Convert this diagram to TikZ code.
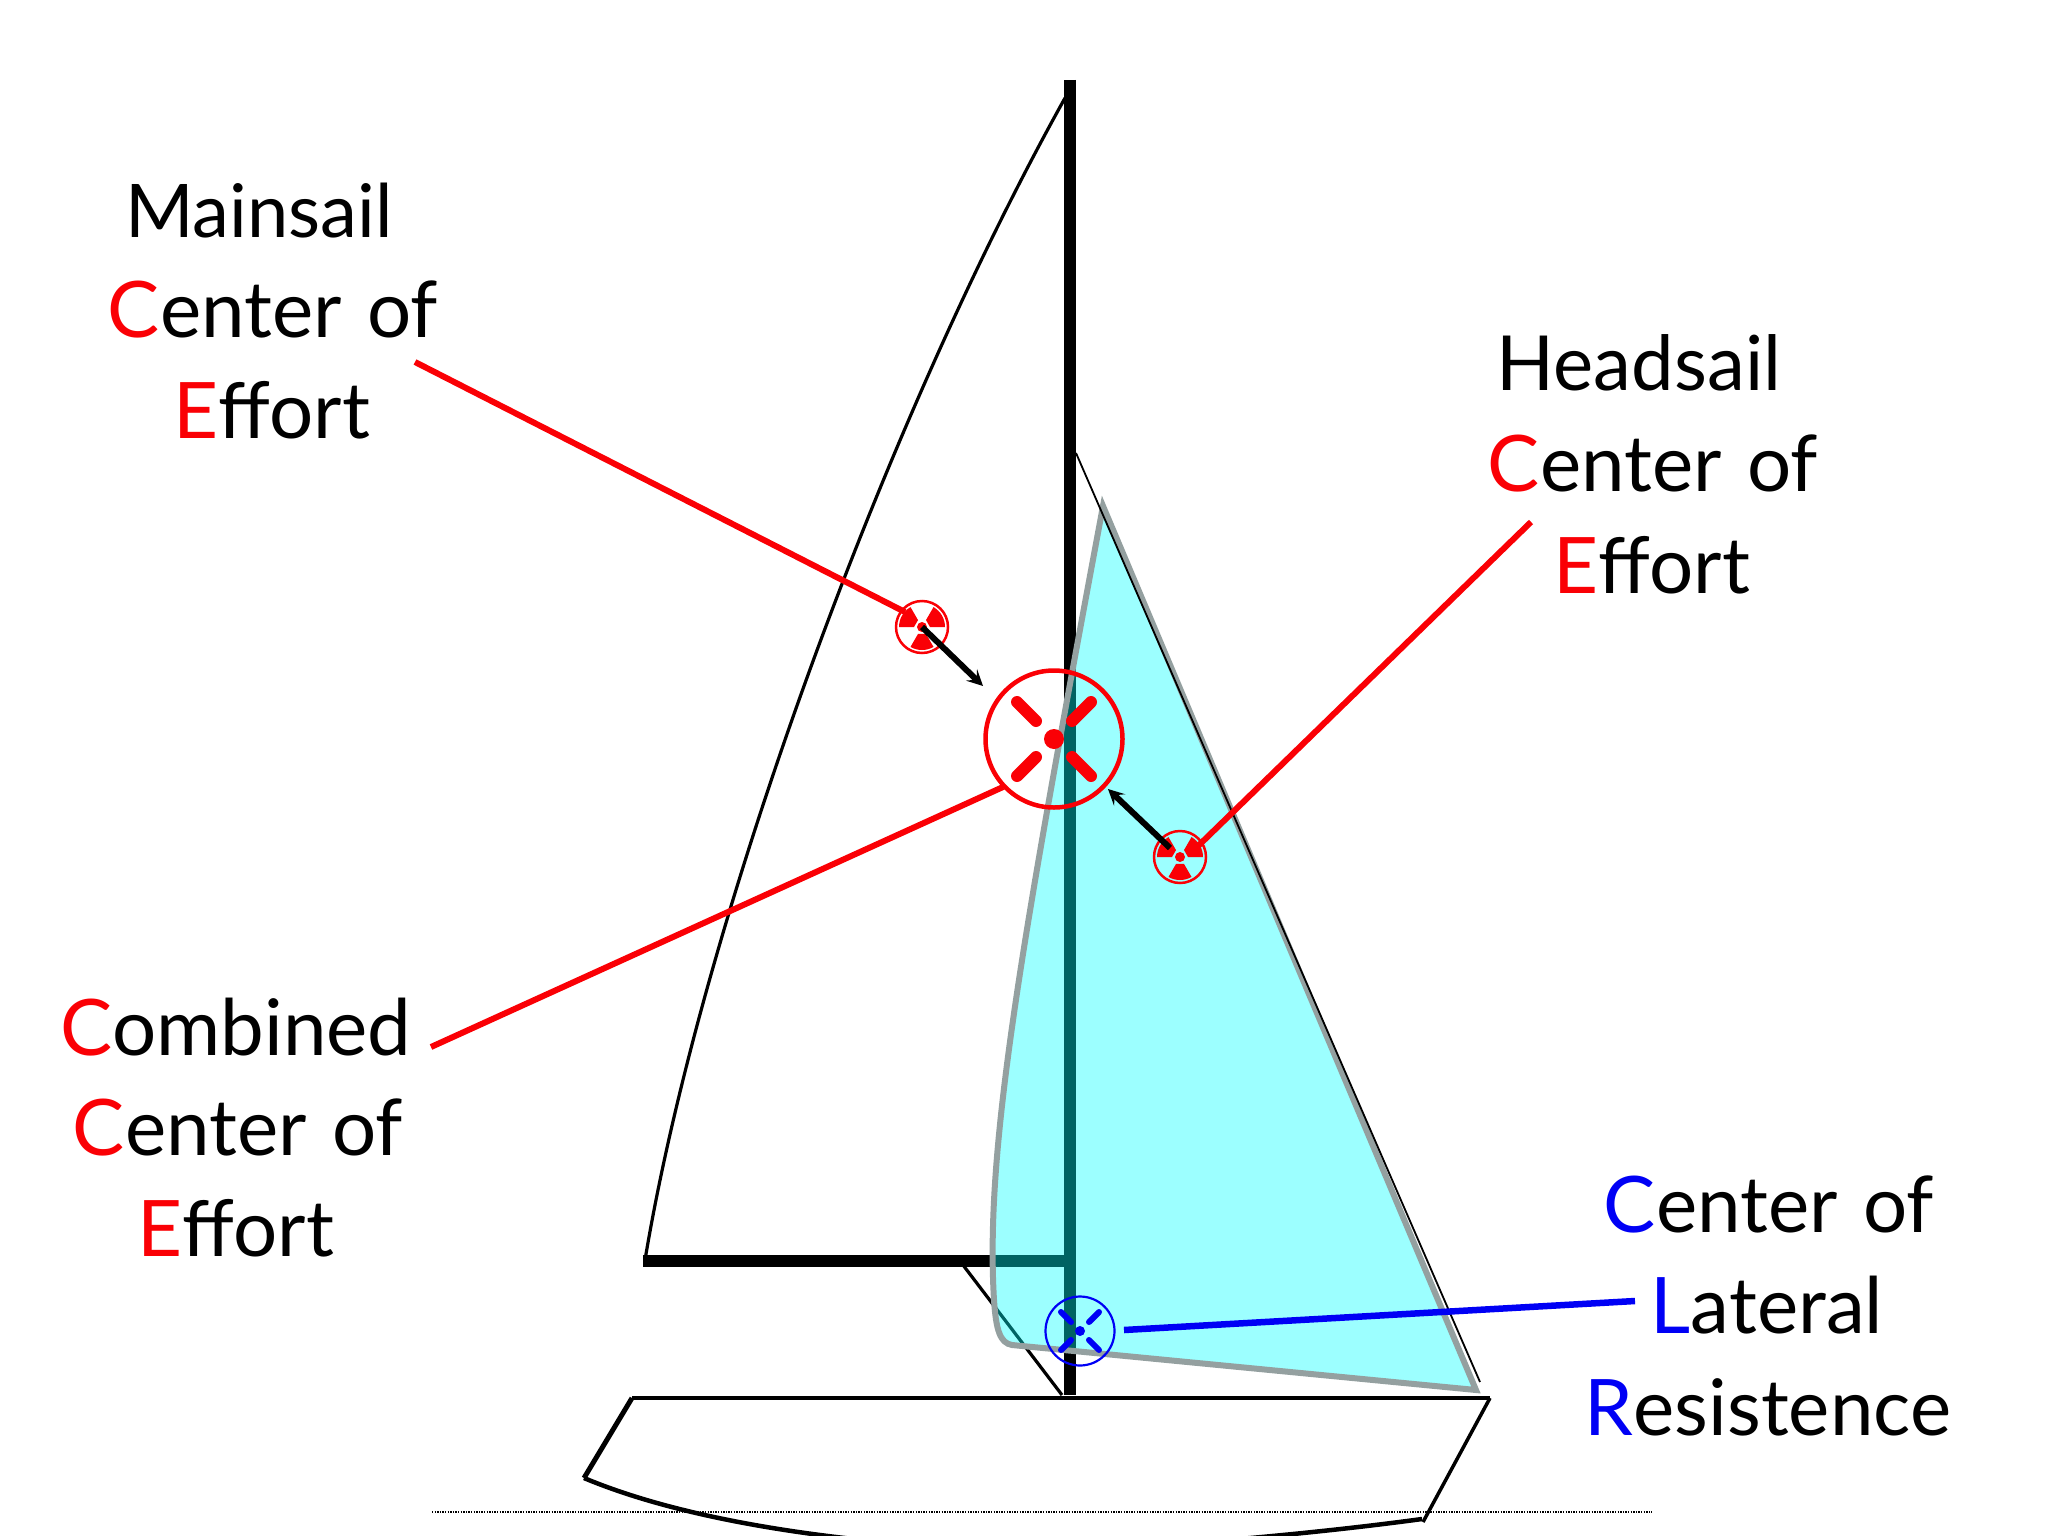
\documentclass[tikz,border=0pt]{standalone}
\usepackage{fontspec}
\setmainfont{Lato}
\usetikzlibrary{arrows.meta,calc}
\definecolor{jibedge}{RGB}{148,160,160}
\definecolor{jibfill}{RGB}{0,255,255}
\definecolor{redc}{RGB}{250,0,5}
\definecolor{bluec}{RGB}{0,0,245}
\tikzset{
  x=1pt,y=-1pt,
  lbl/.style={anchor=base,inner sep=0pt,font=\fontsize{78}{78}\selectfont},
  lblsmall/.style={anchor=base,inner sep=0pt,font=\fontsize{74}{74}\selectfont},
  thickspar/.style={line width=12pt,black},
  redline/.style={line width=6pt,redc},
  blueline/.style={line width=6.5pt,bluec},
  ringr/.style={circle,draw=redc,line width=2.5pt,minimum size=52pt,inner sep=0pt},
  blackarrow/.style={line width=6pt,black,-{Stealth[length=16pt,width=16pt,inset=7pt]}},
}
\newcommand{\Rd}[1]{\textcolor{redc}{#1}}
\newcommand{\Bl}[1]{\textcolor{bluec}{#1}}
\newcommand{\Wsp}{\hspace{0.33em}}
\newcommand{\trefoil}[2]{%
  \foreach \a in {0,120,240}{
    \fill[redc] ($(#1,#2)+(\a:8)$) -- ($(#1,#2)+(\a:23)$) arc[start angle=\a,delta angle=-60,radius=23] -- ($(#1,#2)+(\a-60:8)$) -- cycle;
  }
}
\begin{document}
\begin{tikzpicture}
\useasboundingbox (0,0) rectangle (2048,1536);
\clip (0,0) rectangle (2048,1536);
\fill[white] (0,0) rectangle (2048,1536);
% named points
\coordinate (mastTop) at (1070,80);
\coordinate (mastBot) at (1070,1395);
\coordinate (mainHead) at (1065,98);
\coordinate (mainTack) at (645,1260);
\coordinate (boomEnd) at (643,1261);
\coordinate (boomMast) at (1070,1261);
\coordinate (vangTop) at (963,1265);
\coordinate (vangBot) at (1062,1395);
\coordinate (stayTop) at (1076,453);
\coordinate (stayBot) at (1480,1382);
\coordinate (jibHead) at (1103,506);
\coordinate (jibClew) at (1476,1390);
\coordinate (deckL) at (632,1398);
\coordinate (deckR) at (1490,1398);
\coordinate (keelL) at (584,1478);
\coordinate (keelR) at (1423,1522);
\coordinate (keelRb) at (1422,1519);
\coordinate (waterL) at (432,1512);
\coordinate (waterR) at (1652,1512);
% rig
\draw[line width=3.2pt] (mainHead) .. controls (880,430) and (700,930) .. (mainTack);
\draw[thickspar] (mastTop) -- (mastBot);
\draw[thickspar] (boomEnd) -- (boomMast);
\draw[line width=3.2pt] (vangTop) -- (vangBot);
% headsail
\path[fill=jibfill,fill opacity=.39,draw=jibedge,line width=6pt,line join=miter]
  (jibHead) -- (jibClew) -- (1012,1345) .. controls (1000,1343) and (996,1330) .. (994,1300)
  .. controls (985,1150) and (1020,950) .. (jibHead) -- cycle;
\draw[line width=1.8pt] (stayTop) -- (stayBot);
% hull
\draw[line width=4.5pt] (deckL) -- (deckR);
\draw[line width=5pt] (deckL) -- (keelL);
\draw[line width=4.5pt] (keelL) .. controls (720,1535) and (930,1550) .. (1050,1550)
  .. controls (1120,1550) and (1290,1537) .. (keelRb);
\draw[line width=3.5pt] (deckR) -- (keelR);
\draw[line width=1.6pt,dash pattern=on 1.3pt off 1.3pt] (waterL) -- (waterR);
% markers
\node[ringr] (mainMark) at (922,627) {};
\trefoil{922}{627}
\fill[redc] (922,627) circle[radius=5];
\node[ringr] (headMark) at (1180,857) {};
\trefoil{1180}{857}
\fill[redc] (1180,857) circle[radius=5];
\node[circle,draw=redc,line width=4.5pt,minimum size=137pt,inner sep=0pt] (combMark) at (1054,739) {};
\foreach \dx/\dy in {-1/-1,1/-1,-1/1,1/1}{
  \draw[redc,line width=12pt,line cap=round] ($(combMark.center)+(\dx*37,\dy*37)$) -- ($(combMark.center)+(\dx*18,\dy*18)$);
}
\fill[redc] (combMark.center) circle[radius=10];
\node[circle,draw=bluec,line width=2.2pt,minimum size=69pt,inner sep=0pt] (blueMark) at (1080,1331) {};
\foreach \dx/\dy in {-1/-1,1/-1,-1/1,1/1}{
  \draw[bluec,line width=6pt,line cap=round] ($(blueMark.center)+(\dx*19,\dy*19)$) -- ($(blueMark.center)+(\dx*9,\dy*9)$);
}
\fill[bluec] (blueMark.center) circle[radius=5];
% arrows
\coordinate (mainArrTip) at (983,686);
\coordinate (headArrTail) at (1170,848);
\coordinate (headArrTip) at (1108,789);
\draw[blackarrow] (mainMark.center) -- (mainArrTip);
\draw[blackarrow] (headArrTail) -- (headArrTip);
% labels
\node[lblsmall] (a1) at (259,237) {Mainsail};
\node[lbl] (a2) at (273,337) {\Rd{C}enter\Wsp of};
\node[lbl] (a3) at (272,438) {\Rd{E}ffort};
\node[lbl,font=\fontsize{76}{76}\selectfont] (b1) at (1639,390) {Headsail};
\node[lbl] (b2) at (1653,491) {\Rd{C}enter\Wsp of};
\node[lbl] (b3) at (1652,593) {\Rd{E}ffort};
\node[lbl] (c1) at (236,1055) {\Rd{C}ombined};
\node[lbl] (c2) at (238,1155) {\Rd{C}enter\Wsp of};
\node[lbl] (c3) at (236,1256) {\Rd{E}ffort};
\node[lbl] (d1) at (1769,1232) {\Bl{C}enter\Wsp of};
\node[lbl] (d2) at (1767,1333) {\Bl{L}ateral};
\node[lbl] (d3) at (1768,1435) {\Bl{R}esistence};
% leaders
\coordinate (l1) at (415,362);
\coordinate (l1e) at (905,612);
\coordinate (l2) at (1531,522);
\coordinate (l2e) at (1196,848);
\coordinate (l3) at (431,1047);
\coordinate (l3e) at (1003,787);
\coordinate (l4) at (1635,1301);
\coordinate (l4e) at (1124,1330);
\draw[redline] (l1) -- (l1e);
\draw[redline] (l2) -- (l2e);
\draw[redline] (l3) -- (l3e);
\draw[blueline] (l4) -- (l4e);
\end{tikzpicture}
\end{document}
